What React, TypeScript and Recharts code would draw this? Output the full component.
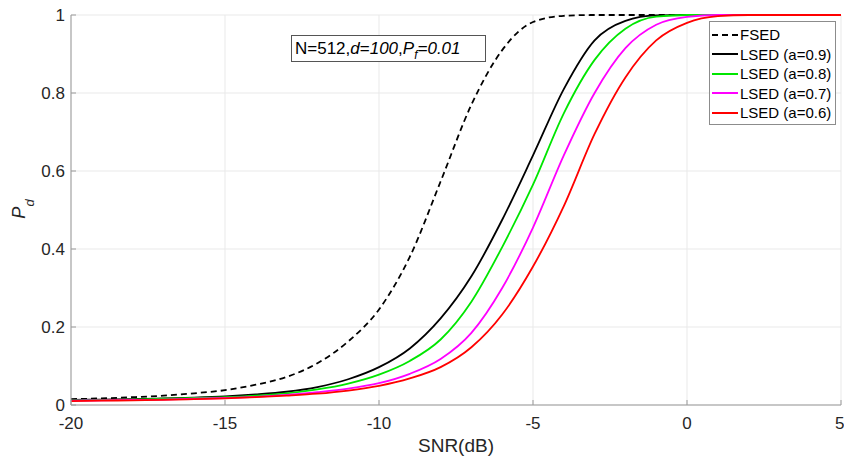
import React from 'react';
import { LineChart, Line, XAxis, YAxis, CartesianGrid, Legend } from 'recharts';

// SNR sweep in dB, 1 dB steps
const snrDb = [-20, -19, -18, -17, -16, -15, -14, -13, -12, -11, -10, -9, -8, -7, -6, -5, -4, -3, -2, -1, 0, 1, 2, 3, 4, 5];

// detection probability
const fsedPd = [0.015, 0.017, 0.02, 0.024, 0.03, 0.038, 0.052, 0.072, 0.107, 0.163, 0.245, 0.38, 0.573, 0.77, 0.91, 0.982, 0.998, 1, 1, 1, 1, 1, 1, 1, 1, 1];
const lsed09Pd = [0.013, 0.014, 0.015, 0.017, 0.019, 0.022, 0.027, 0.034, 0.046, 0.066, 0.097, 0.145, 0.222, 0.33, 0.475, 0.64, 0.81, 0.935, 0.985, 0.999, 1, 1, 1, 1, 1, 1];
const lsed08Pd = [0.012, 0.013, 0.014, 0.016, 0.018, 0.02, 0.024, 0.03, 0.04, 0.055, 0.078, 0.113, 0.168, 0.265, 0.405, 0.565, 0.748, 0.885, 0.965, 0.996, 1, 1, 1, 1, 1, 1];
const lsed07Pd = [0.011, 0.012, 0.013, 0.014, 0.016, 0.018, 0.021, 0.026, 0.033, 0.042, 0.056, 0.08, 0.118, 0.185, 0.3, 0.455, 0.64, 0.8, 0.915, 0.975, 0.995, 1, 1, 1, 1, 1];
const lsed06Pd = [0.01, 0.011, 0.012, 0.013, 0.015, 0.017, 0.02, 0.024, 0.029, 0.037, 0.049, 0.068, 0.097, 0.148, 0.232, 0.355, 0.51, 0.695, 0.84, 0.935, 0.98, 0.997, 1, 1, 1, 1];

const xTicks = [-20, -15, -10, -5, 0, 5];
const yTicks = [0, 0.2, 0.4, 0.6, 0.8, 1];

const series = [
  { key: 'fsed', name: 'FSED', color: '#000000', dash: '6 4' },
  { key: 'a09', name: 'LSED (a=0.9)', color: '#000000', dash: undefined },
  { key: 'a08', name: 'LSED (a=0.8)', color: '#00e600', dash: undefined },
  { key: 'a07', name: 'LSED (a=0.7)', color: '#ff00ff', dash: undefined },
  { key: 'a06', name: 'LSED (a=0.6)', color: '#ff0000', dash: undefined },
];

const data = snrDb.map((snr, i) => ({
  snr,
  fsed: fsedPd[i],
  a09: lsed09Pd[i],
  a08: lsed08Pd[i],
  a07: lsed07Pd[i],
  a06: lsed06Pd[i],
}));

const FONT = '"Liberation Sans", Arial, Helvetica, sans-serif';
const AXIS_GRAY = '#9a9a9a';
const TEXT = '#262626';

const PdLabel = () => (
  <text
    transform="translate(25,209) rotate(-90)"
    textAnchor="middle"
    fontStyle="italic"
    fontSize={18}
    fill={TEXT}
  >
    P<tspan fontSize={13} dy={9}>d</tspan>
  </text>
);

const LegendBox = () => (
  <div
    style={{
      width: 125,
      height: 99,
      border: '1px solid #8c8c8c',
      background: '#fff',
      paddingTop: 3,
      boxSizing: 'content-box',
      fontFamily: FONT,
      fontSize: 15,
      color: '#000',
    }}
  >
    {series.map((s) => (
      <div key={s.key} style={{ display: 'flex', alignItems: 'center', height: 19.5 }}>
        <svg width={30} height={10} style={{ flex: 'none' }}>
          <line
            x1={2}
            x2={28}
            y1={5}
            y2={5}
            stroke={s.color}
            strokeWidth={2}
            strokeDasharray={s.dash}
          />
        </svg>
        <span style={{ whiteSpace: 'nowrap' }}>{s.name}</span>
      </div>
    ))}
  </div>
);

export default function App() {
  return (
    <div
      style={{
        position: 'absolute',
        left: 0,
        top: 0,
        width: 844,
        height: 459,
        background: '#fff',
        fontFamily: FONT,
        overflow: 'hidden',
      }}
    >
      <LineChart width={844} height={459} data={data} margin={{ top: 15, right: 3, bottom: 24, left: 0 }}>
        <CartesianGrid stroke="#e9e9e9" strokeWidth={1} />
        <XAxis
          dataKey="snr"
          type="number"
          domain={[-20, 5]}
          ticks={xTicks}
          height={30}
          stroke={AXIS_GRAY}
          tickSize={-5}
          tickMargin={17}
          tick={{ fontSize: 17, fill: TEXT }}
          label={{ value: 'SNR(dB)', position: 'bottom', offset: 4, fontSize: 19, fill: TEXT }}
        />
        <YAxis
          type="number"
          domain={[0, 1]}
          ticks={yTicks}
          width={71}
          stroke={AXIS_GRAY}
          tickSize={-5}
          tickMargin={11}
          tick={{ fontSize: 17, fill: TEXT }}
          label={<PdLabel />}
        />
        {series.map((s) => (
          <Line
            key={s.key}
            type="monotone"
            dataKey={s.key}
            name={s.name}
            stroke={s.color}
            strokeWidth={1.8}
            strokeDasharray={s.dash}
            dot={false}
            activeDot={false}
            isAnimationActive={false}
          />
        ))}
        <Legend
          layout="vertical"
          align="center"
          verticalAlign="middle"
          wrapperStyle={{ left: 709, top: 21, width: 127 }}
          content={() => <LegendBox />}
        />
      </LineChart>
      <div
        style={{
          position: 'absolute',
          left: 291,
          top: 35,
          width: 190,
          height: 25,
          border: '1px solid #555',
          background: '#fff',
          fontSize: 17,
          lineHeight: '25px',
          paddingLeft: 3,
          boxSizing: 'content-box',
          color: '#000',
          whiteSpace: 'nowrap',
        }}
      >
        N=512,<i>d</i>=<i>100</i>,<i>P</i>
        <i style={{ fontSize: 12, position: 'relative', top: 5 }}>f</i>
        <i>=0.01</i>
      </div>
    </div>
  );
}
